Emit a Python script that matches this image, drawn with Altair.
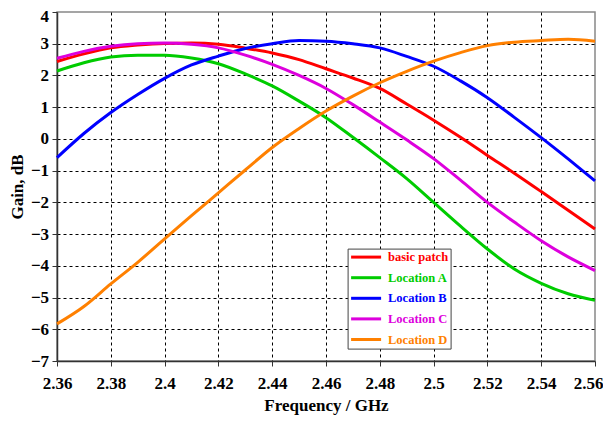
import altair as alt
import pandas as pd

freq = [2.36, 2.37, 2.38, 2.39, 2.40, 2.41, 2.42, 2.43, 2.44, 2.45, 2.46,
        2.47, 2.48, 2.49, 2.50, 2.51, 2.52, 2.53, 2.54, 2.55, 2.56]

basic_patch = [2.44, 2.68, 2.87, 2.96, 3.01, 3.02, 2.98, 2.86, 2.71, 2.50, 2.21,
               1.92, 1.59, 1.10, 0.59, 0.05, -0.52, -1.08, -1.66, -2.25, -2.84]
location_a = [2.14, 2.40, 2.58, 2.64, 2.64, 2.55, 2.37, 2.05, 1.67, 1.19, 0.67,
              0.05, -0.59, -1.25, -2.00, -2.75, -3.47, -4.10, -4.55, -4.88, -5.09]
location_b = [-0.59, 0.17, 0.83, 1.40, 1.91, 2.33, 2.61, 2.85, 3.00, 3.10, 3.08,
              3.00, 2.87, 2.60, 2.29, 1.83, 1.30, 0.68, 0.04, -0.63, -1.32]
location_c = [2.54, 2.76, 2.92, 3.00, 3.02, 2.98, 2.87, 2.64, 2.35, 2.00, 1.59,
              1.08, 0.53, -0.03, -0.62, -1.30, -2.00, -2.62, -3.21, -3.72, -4.15]
location_d = [-5.83, -5.28, -4.57, -3.89, -3.15, -2.42, -1.70, -0.98, -0.27, 0.33, 0.88,
              1.35, 1.77, 2.13, 2.45, 2.72, 2.94, 3.05, 3.10, 3.14, 3.08]

series_names = ["basic patch", "Location A", "Location B", "Location C", "Location D"]
series_colors = ["#ff0000", "#00cc00", "#0000ff", "#dd00dd", "#ff8000"]
series_values = [basic_patch, location_a, location_b, location_c, location_d]

x_ticks = [2.36, 2.38, 2.40, 2.42, 2.44, 2.46, 2.48, 2.50, 2.52, 2.54, 2.56]
y_ticks = [-7, -6, -5, -4, -3, -2, -1, 0, 1, 2, 3, 4]

rows = []
for name, vals in zip(series_names, series_values):
    for f, v in zip(freq, vals):
        rows.append({"freq": f, "gain": v, "series": name})
df = pd.DataFrame(rows)

label_color_expr = " : ".join(
    f"datum.label == '{n}' ? '{c}'" for n, c in zip(series_names, series_colors)
) + " : 'black'"

FONT = "Liberation Serif"

chart = alt.Chart(df).mark_line(strokeWidth=3, interpolate="monotone").encode(
    x=alt.X(
        "freq:Q",
        scale=alt.Scale(domain=[2.36, 2.56], nice=False, zero=False),
        axis=alt.Axis(
            values=x_ticks, format=".2~f", title="Frequency / GHz",
            labelBaseline="alphabetic", labelPadding=22, labelFlush=False,
            labelOffset={"condition": {"test": "datum.value > 2.555", "value": -7}, "value": 0},
            titleY=49.5, titleBaseline="alphabetic",
            gridOpacity={"condition": {"test": "datum.value < 2.365 || datum.value > 2.555", "value": 0}, "value": 1},
        ),
    ),
    y=alt.Y(
        "gain:Q",
        scale=alt.Scale(domain=[-7, 4], nice=False, zero=False),
        axis=alt.Axis(
            values=y_ticks, title="Gain, dB", labelPadding=3.4, labelFlush=False,
            labelOffset={"condition": {"test": "datum.value > 3.5", "value": 4}, "value": 0},
            titleX=-35, titleBaseline="alphabetic",
            gridOpacity={"condition": {"test": "datum.value < -6.5 || datum.value > 3.5", "value": 0}, "value": 1},
        ),
    ),
    color=alt.Color(
        "series:N",
        scale=alt.Scale(domain=series_names, range=series_colors),
        sort=series_names,
        legend=alt.Legend(
            title=None, orient="none", legendX=290.6, legendY=236.6,
            symbolType="M-1,0L5,0", symbolSize=100, symbolStrokeWidth=3,
            labelFont=FONT, labelFontWeight="bold", labelFontSize=12.5,
            labelColor={"expr": label_color_expr},
            labelOffset=25.4, rowPadding=7.6, padding=2,
            strokeColor="#444444", fillColor="white",
        ),
    ),
).properties(
    width=538, height=349,
    autosize=alt.AutoSizeParams(type="none"),
    padding={"left": 49, "top": 4, "right": 8, "bottom": 54},
).configure_view(
    stroke="#888888", strokeWidth=1.5
).configure_axis(
    labelFont=FONT, labelFontWeight="bold", labelFontSize=17, labelColor="black",
    titleFont=FONT, titleFontWeight="bold", titleFontSize=17, titleColor="black",
    domainColor="#333333", domainWidth=1.5,
    tickColor="#333333", tickSize=5, tickWidth=1,
    grid=True, gridColor="black", gridDash=[3, 3], gridWidth=1,
)

chart.save("out.html", embed_options={"renderer": "svg", "actions": False})
